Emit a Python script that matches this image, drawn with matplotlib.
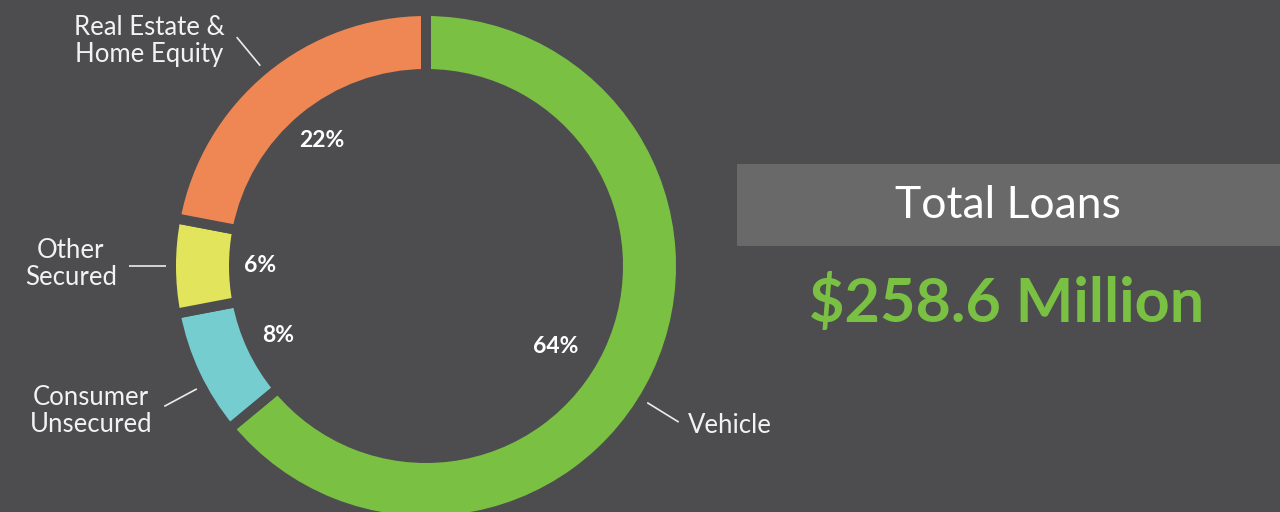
import numpy as np
import matplotlib.pyplot as plt
from matplotlib.patches import Rectangle

#### chart data
categories = ['Vehicle', 'Consumer\nUnsecured', 'Other\nSecured', 'Real Estate &\nHome Equity']
shares = [64, 8, 6, 22]
colors = ['#7ac143', '#76cdd0', '#e2e55c', '#ef8754']
total_title = 'Total Loans'
total_value = '$258.6 Million'

bg = '#4d4d4f'
plt.rcParams['font.family'] = ['Lato', 'DejaVu Sans']

fig = plt.figure(figsize=(12.8, 5.12), dpi=100, facecolor=bg)
ax = fig.add_axes([0, 0, 1, 1])
ax.set_facecolor(bg)

# donut, pixel-like data coords (y up)
cx, cy, R = 426, 246, 255
ax.pie(shares, colors=colors, startangle=90, counterclock=False,
       center=(cx, cy), radius=R,
       wedgeprops=dict(width=63, edgecolor=bg, linewidth=7.2))
ax.set_xlim(0, 1280)
ax.set_ylim(0, 512)
ax.set_aspect('equal')
ax.axis('off')

# mid angle of every slice; leader lines are a bit off-centre in the original
cum = np.cumsum(shares) - np.array(shares) / 2
mid = 90 - 360 * cum / sum(shares)
nudge = [-6.5, 3, 0, 0]
pct_nudge = [-6.5, 0, 0, 0]
pct_r = [0.6, 0.64, 0.65, 0.64]
text_dy = [-3, -7, 0, -6]

for name, s, a, dn, pn, pr, dy in zip(categories, shares, mid, nudge, pct_nudge, pct_r, text_dy):
    # percent inside the hole
    tp = np.deg2rad(a + pn)
    ax.text(cx + pr * R * np.cos(tp), cy + pr * R * np.sin(tp), '{}%'.format(s),
            color='white', fontsize=16.5, fontweight='bold', ha='center', va='center')
    # leader line + label
    t = np.deg2rad(a + dn)
    c, sn = np.cos(t), np.sin(t)
    x0, y0 = cx + 260 * c, cy + 260 * sn
    x1, y1 = cx + 297 * c, cy + 297 * sn
    ax.plot([x0, x1], [y0, y1], color='#ececec', lw=1.2, solid_capstyle='butt')
    if c < 0:
        ax.text(x1 - 12, y1 + dy + 2, name, color='#f2f2f2', fontsize=18.5,
                ha='right', va='center', multialignment='center', linespacing=1.1)
    else:
        ax.text(x1 + 9, y1 + dy, name, color='#f2f2f2', fontsize=18.5,
                ha='left', va='center', linespacing=1.1)

# total box on the right
ax.add_patch(Rectangle((737, 266), 543, 82, color='#696969', lw=0))
ax.text(1008, 306, total_title, color='white', fontsize=32, ha='center', va='center')
ax.text(1007, 209, total_value, color='#7ac143', fontsize=44, fontweight='bold',
        ha='center', va='center')

fig.savefig('out.png', dpi=100, facecolor=bg)
